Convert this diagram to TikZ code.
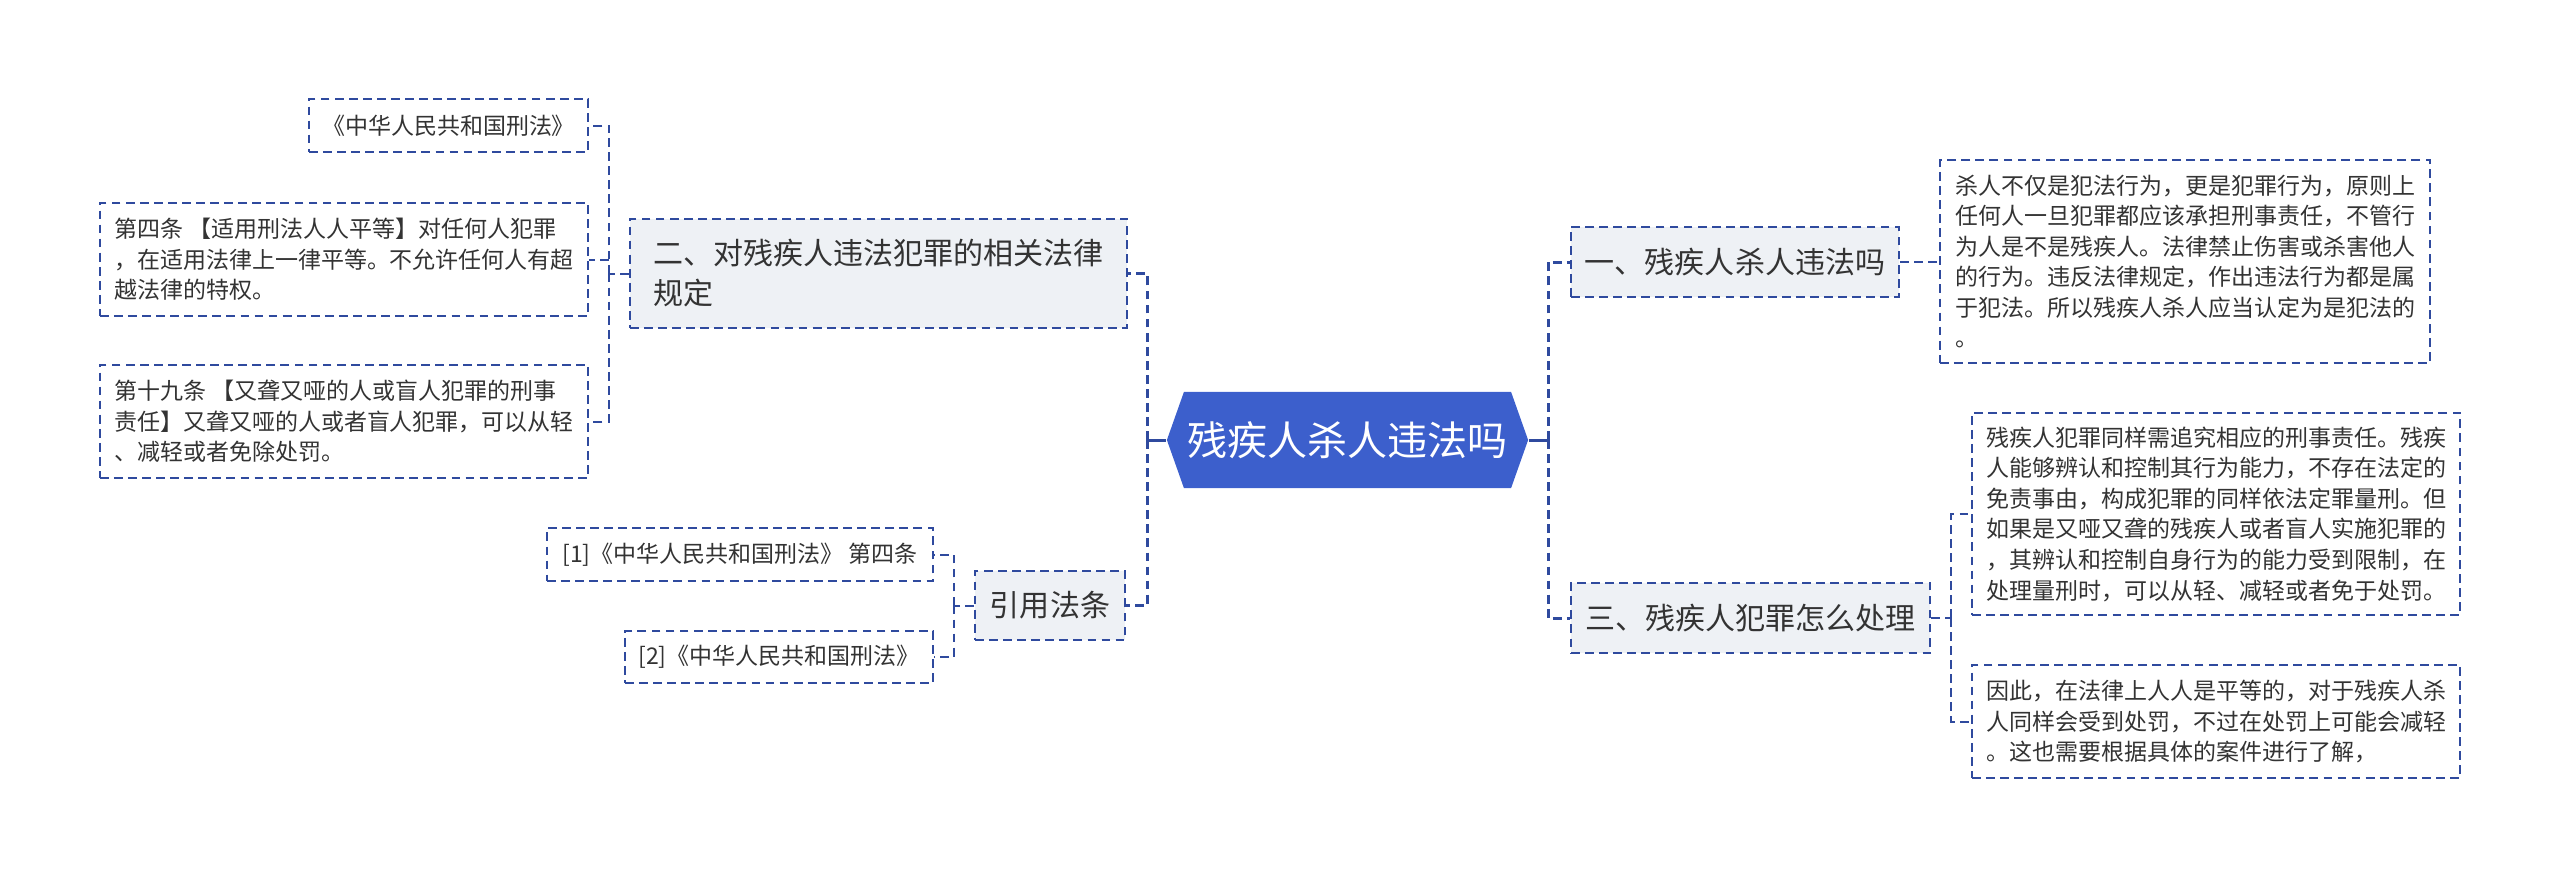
\documentclass[tikz,border=0pt]{standalone}
\usepackage{fontspec}
\setmainfont{Noto Sans CJK SC}
\usepackage{xcolor}
\usetikzlibrary{shapes.symbols}
\definecolor{linkblue}{HTML}{2F4A9E}
\definecolor{rootblue}{HTML}{3C5FCC}
\definecolor{topicgray}{HTML}{EEF1F5}
\definecolor{textgray}{HTML}{333333}

\begin{document}
\begin{tikzpicture}[x=0.01cm, y=-0.01cm,
    link/.style={draw=linkblue, line width=0.57pt, dash pattern=on 2.5pt off 1.5pt},
    mainlink/.style={draw=linkblue, line width=0.85pt, dash pattern=on 2.5pt off 1.5pt},
    root/.style={signal, signal to=east and west, signal pointer angle=141,
      fill=rootblue, text=white, inner sep=0pt,
      font=\fontsize{11.4pt}{13pt}\selectfont},
    topic/.style={draw=linkblue, fill=topicgray, line width=0.5pt,
      dash pattern=on 2.5pt off 1.5pt, text=textgray, align=left, inner sep=0pt,
      font=\fontsize{8.54pt}{11.4pt}\selectfont},
    leaf/.style={draw=linkblue, fill=white, line width=0.5pt,
      dash pattern=on 2.5pt off 1.5pt, text=textgray, align=left, inner sep=0pt,
      font=\fontsize{6.54pt}{8.7pt}\selectfont}]
  \useasboundingbox (0,0) rectangle (2560,878);
  % centre
  \node[root, minimum width=3.61cm, minimum height=0.96cm] (root) at (1347.5,440) {残疾人杀人违法吗};
  % left side topics
  \node[topic, minimum width=4.97cm, minimum height=1.09cm] (law) at (878.5,273.5)
    {二、对残疾人违法犯罪的相关法律\\规定};
  \node[topic, minimum width=1.50cm, minimum height=0.69cm] (cite) at (1050,605.5) {引用法条};
  % right side topics
  \node[topic, minimum width=3.28cm, minimum height=0.70cm] (q1) at (1735,262) {一、残疾人杀人违法吗};
  \node[topic, minimum width=3.59cm, minimum height=0.70cm] (q3) at (1750.5,618) {三、残疾人犯罪怎么处理};
  % leaves of law
  \node[leaf, minimum width=2.79cm, minimum height=0.53cm] (xf) at (448.5,125.5) {《中华人民共和国刑法》};
  \node[leaf, minimum width=4.88cm, minimum height=1.13cm] (art4) at (344,259.5)
    {第四条 【适用刑法人人平等】对任何人犯罪\\，在适用法律上一律平等。不允许任何人有超\\越法律的特权。};
  \node[leaf, minimum width=4.88cm, minimum height=1.13cm] (art19) at (344,421.5)
    {第十九条 【又聋又哑的人或盲人犯罪的刑事\\责任】又聋又哑的人或者盲人犯罪，可以从轻\\、减轻或者免除处罚。};
  % leaves of cite
  \node[leaf, minimum width=3.86cm, minimum height=0.53cm] (ref1) at (740,554.5) {[1]《中华人民共和国刑法》 第四条};
  \node[leaf, minimum width=3.08cm, minimum height=0.52cm] (ref2) at (779,657) {[2]《中华人民共和国刑法》};
  % leaves of q1, q3
  \node[leaf, minimum width=4.90cm, minimum height=2.03cm] (a1) at (2185,261.5)
    {杀人不仅是犯法行为，更是犯罪行为，原则上\\任何人一旦犯罪都应该承担刑事责任，不管行\\为人是不是残疾人。法律禁止伤害或杀害他人\\的行为。违反法律规定，作出违法行为都是属\\于犯法。所以残疾人杀人应当认定为是犯法的\\。};
  \node[leaf, minimum width=4.88cm, minimum height=2.02cm] (a3) at (2216,514)
    {残疾人犯罪同样需追究相应的刑事责任。残疾\\人能够辨认和控制其行为能力，不存在法定的\\免责事由，构成犯罪的同样依法定罪量刑。但\\如果是又哑又聋的残疾人或者盲人实施犯罪的\\，其辨认和控制自身行为的能力受到限制，在\\处理量刑时，可以从轻、减轻或者免于处罚。};
  \node[leaf, minimum width=4.88cm, minimum height=1.13cm] (b3) at (2216,721.5)
    {因此，在法律上人人是平等的，对于残疾人杀\\人同样会受到处罚，不过在处罚上可能会减轻\\。这也需要根据具体的案件进行了解，};
  % junctions
  \coordinate (jl) at (1147,440);
  \coordinate (jr) at (1548,440);
  \coordinate (jlaw) at (609,273.5);
  \coordinate (jcite) at (954,605.5);
  \coordinate (jq3) at (1951,618);
  % links from centre
  \draw[draw=linkblue, line width=0.85pt] (root.west) -- (jl);
  \draw[draw=linkblue, line width=0.85pt] (root.east) -- (jr);
  \draw[mainlink] (jl) |- (law.east);
  \draw[mainlink] (jl) |- (cite.east);
  \draw[mainlink] (jr) |- (q1.west);
  \draw[mainlink] (jr) |- (q3.west);
  % links to leaves
  \draw[link] (law.west) -- (jlaw);
  \draw[link] (jlaw) |- (xf.east);
  \draw[link] (jlaw) |- (art4.east);
  \draw[link] (jlaw) |- (art19.east);
  \draw[link] (cite.west) -- (jcite);
  \draw[link] (jcite) |- (ref1.east);
  \draw[link] (jcite) |- (ref2.east);
  \draw[link] (q1.east) -- (a1.west |- q1.east);
  \draw[link] (q3.east) -- (jq3);
  \draw[link] (jq3) |- (a3.west);
  \draw[link] (jq3) |- (b3.west);
\end{tikzpicture}
\end{document}
